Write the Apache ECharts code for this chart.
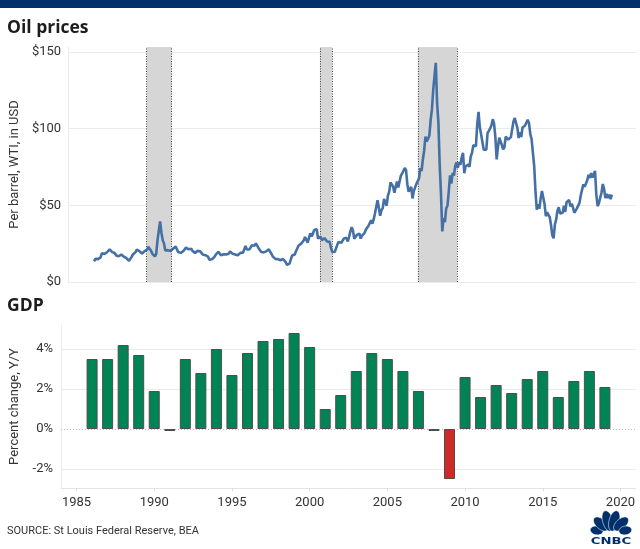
<!DOCTYPE html>
<html><head><meta charset="utf-8">
<script src="https://cdn.jsdelivr.net/npm/echarts@6/dist/echarts.min.js"></script>
<style>html,body{margin:0;padding:0;background:#fff}#c{width:640px;height:549px}</style>
</head><body><div id="c"></div>
<script>
// ---- GDP (annual real GDP growth, % Y/Y) ----
const gdpYears = [1986,1987,1988,1989,1990,1991,1992,1993,1994,1995,1996,1997,1998,1999,2000,2001,2002,2003,2004,2005,2006,2007,2008,2009,2010,2011,2012,2013,2014,2015,2016,2017,2018,2019];
const gdpValues = [3.5,3.5,4.2,3.7,1.9,-0.1,3.5,2.8,4.0,2.7,3.8,4.4,4.5,4.8,4.1,1.0,1.7,2.9,3.8,3.5,2.9,1.9,-0.1,-2.5,2.6,1.6,2.2,1.8,2.5,2.9,1.6,2.4,2.9,2.1];

// ---- WTI oil price, monthly (1986 starts in July) ----
const oilStartYear = 1986;
const oilFirstMonth = 6;
const wti1986 = [13.5,15.1,14.9,14.9,15.2,16.1];
const wti1987 = [18.7,17.8,18.3,18.7,19.4,20.1,21.3,20.3,19.5,19.9,18.9,17.3];
const wti1988 = [17.1,16.8,16.2,17.9,17.4,16.5,15.5,15.5,14.5,13.8,14.1,16.4];
const wti1989 = [18.0,17.9,19.5,21.1,20.1,20.1,19.8,18.6,19.6,20.1,19.9,21.1];
const wti1990 = [22.9,22.1,20.4,18.4,18.2,16.7,18.5,27.3,33.5,39.5,32.3,27.3];
const wti1991 = [25.2,20.5,19.9,20.8,21.2,20.2,21.4,21.7,21.9,23.2,22.5,19.5];
const wti1992 = [18.8,19.0,18.9,20.2,21.0,22.4,21.8,21.3,21.9,21.7,20.3,19.4];
const wti1993 = [19.0,20.1,20.3,20.3,20.0,19.1,17.9,18.0,17.5,18.2,16.6,14.5];
const wti1994 = [15.0,14.8,14.7,16.4,17.9,19.1,19.7,18.4,17.5,17.7,18.1,17.2];
const wti1995 = [18.0,18.6,18.5,19.9,19.7,18.5,17.3,18.0,18.2,17.4,18.0,19.0];
const wti1996 = [18.9,19.1,21.3,23.5,21.2,20.4,21.3,21.9,24.0,24.9,23.7,25.2];
const wti1997 = [25.1,22.2,21.0,19.7,20.8,19.3,19.7,20.0,19.8,21.3,20.2,18.3];
const wti1998 = [16.7,16.1,15.1,15.4,14.9,13.7,14.2,13.5,15.0,14.5,13.0,11.2];
const wti1999 = [12.5,12.0,14.7,17.3,17.7,17.9,20.1,21.3,23.8,22.7,25.0,26.1];
const wti2000 = [27.3,29.4,29.8,25.7,28.8,31.8,29.7,31.3,33.9,33.1,34.4,28.4];
const wti2001 = [29.6,29.6,27.3,27.5,28.6,27.6,26.4,27.4,26.2,22.2,19.6,19.4];
const wti2002 = [19.7,20.7,24.5,26.2,27.0,25.5,27.0,28.4,29.7,28.8,26.4,29.5];
const wti2003 = [33.0,35.8,33.5,28.2,28.1,30.7,30.8,31.6,28.3,30.3,31.1,32.1];
const wti2004 = [34.3,34.7,36.7,36.8,40.3,38.0,40.8,44.9,45.9,53.3,48.5,43.2];
const wti2005 = [46.8,48.2,54.2,53.0,49.8,56.4,59.0,65.0,65.6,62.3,58.3,59.4];
const wti2006 = [65.5,61.6,62.7,69.4,70.8,71.0,74.4,73.0,63.8,58.9,59.1,62.0];
const wti2007 = [54.5,59.3,60.4,64.0,63.5,67.5,74.1,72.4,79.9,85.8,94.8,91.7];
const wti2008 = [93.0,95.4,105.5,112.6,125.4,134.5,143.0,116.7,104.1,76.6,57.3,33.0];
const wti2009 = [41.7,39.1,47.9,49.7,59.0,69.6,64.2,71.1,69.4,75.7,78.0,74.5];
const wti2010 = [78.3,76.4,81.2,84.3,71.0,75.3,76.3,76.6,75.2,81.9,84.3,89.2];
const wti2011 = [89.2,88.6,102.9,111.0,100.9,96.3,97.3,86.3,85.5,86.3,97.2,98.6];
const wti2012 = [100.3,102.2,106.2,103.3,94.7,80.0,87.9,94.1,94.5,89.5,86.5,87.9];
const wti2013 = [94.8,95.3,92.9,92.0,94.5,95.8,104.7,107.0,106.3,100.5,93.9,97.6];
const wti2014 = [94.6,100.8,100.8,102.1,102.2,105.8,103.6,96.5,93.2,84.4,75.8,59.3];
const wti2015 = [47.2,50.6,47.8,54.5,59.3,59.8,50.9,42.9,45.5,46.2,42.4,37.2];
const wti2016 = [30.5,28.5,37.6,40.8,46.7,48.8,44.7,44.7,45.2,49.8,45.7,52.0];
const wti2017 = [52.5,53.5,49.3,51.1,48.5,45.2,46.6,48.0,49.8,51.6,56.6,57.9];
const wti2018 = [63.7,62.2,62.7,66.3,70.0,67.9,71.0,68.1,70.2,72.5,57.0,49.5];
const wti2019 = [51.4,55.0,58.2,63.9,60.8,54.7,57.4,54.8,57.0,54.0,57.0];
const wtiByYear = [wti1986,wti1987,wti1988,wti1989,wti1990,wti1991,wti1992,wti1993,wti1994,wti1995,wti1996,wti1997,wti1998,wti1999,wti2000,wti2001,wti2002,wti2003,wti2004,wti2005,wti2006,wti2007,wti2008,wti2009,wti2010,wti2011,wti2012,wti2013,wti2014,wti2015,wti2016,wti2017,wti2018,wti2019];

// ---- recession shading (as drawn) ----
const recessionStart = [1989.92, 2001.08, 2007.38];
const recessionEnd   = [1991.54, 2001.86, 2009.91];

// ---- tick labels ----
const oilTicks = [0, 50, 100, 150];
const gdpTicks = [-2, 0, 2, 4];
const yearTicks = [1985, 1990, 1995, 2000, 2005, 2010, 2015, 2020];

const NAVY = '#00306b';
const GREEN = '#008456';
const RED = '#cf2a2a';
const GRID = '#ebebeb';
const TXT = '#333';
const FONT = 'Roboto';

const oilPoints = [];
wtiByYear.forEach((arr, k) => {
  const yr = oilStartYear + k;
  const m0 = k === 0 ? oilFirstMonth : 0;
  arr.forEach((v, j) => oilPoints.push([yr + (m0 + j + 0.5) / 12, v]));
});

const gdpData = gdpYears.map((y, i) => ({
  value: [y, gdpValues[i]],
  itemStyle: { color: gdpValues[i] < 0 ? RED : GREEN }
}));

// CNBC logo (decorative)
const lx = 611, ly = 533;
const feathers = [[-80,14.5,6.5,4.4],[-48,13.5,9,5.0],[-15,12.5,10.5,5.2],[15,12.5,10.5,5.2],[48,13.5,9,5.0],[80,14.5,6.5,4.4]];
const logoChildren = feathers.map(([a, d, ry, rx]) => {
  const r = a * Math.PI / 180;
  return { type: 'ellipse', x: lx + d * Math.sin(r), y: ly - d * Math.cos(r), rotation: -r,
    shape: { cx: 0, cy: 0, rx, ry }, style: { fill: NAVY, stroke: '#fff', lineWidth: 0.5 } };
});
logoChildren.push({ type: 'group', x: 611, y: 541.5, scaleX: 1.65, children: [
  { type: 'text', x: 0, y: 0, style: { text: 'CNBC', font: '900 8px "DejaVu Sans"', fill: NAVY, align: 'center', verticalAlign: 'middle' } }
] });

const chart = echarts.init(document.getElementById('c'), null, { renderer: 'canvas' });
chart.setOption({
  animation: false,
  backgroundColor: '#fff',
  textStyle: { fontFamily: FONT },
  graphic: [
    { type: 'rect', shape: { x: 0, y: 0, width: 640, height: 8 }, style: { fill: NAVY } },
    { type: 'text', x: 7, y: 28, style: { text: 'Oil prices', font: 'bold 17.5px "Open Sans"', fill: '#1c1c1c', verticalAlign: 'middle' } },
    { type: 'text', x: 7, y: 306, style: { text: 'GDP', font: 'bold 17.5px "Open Sans"', fill: '#1c1c1c', verticalAlign: 'middle' } },
    { type: 'text', x: 7, y: 531, style: { text: 'SOURCE: St Louis Federal Reserve, BEA', font: '11px ' + FONT, fill: TXT, verticalAlign: 'middle' } },
    { type: 'group', children: logoChildren }
  ],
  grid: [
    { left: 68, right: 4, top: 47, height: 235 },
    { left: 61, right: 4, top: 325, height: 163 }
  ],
  xAxis: [
    { gridIndex: 0, type: 'value', min: 1984.87, max: 2021.43, show: false },
    { gridIndex: 1, type: 'value', min: 1984, max: 2021,
      axisLine: { show: true, onZero: false, lineStyle: { color: '#e4e4e4' } },
      axisTick: { show: true, customValues: yearTicks, length: 3, lineStyle: { color: '#dcdcdc' } },
      axisLabel: { customValues: yearTicks, formatter: v => String(v), color: TXT, fontSize: 13, margin: 8, fontFamily: FONT },
      splitLine: { show: false } }
  ],
  yAxis: [
    { gridIndex: 0, type: 'value', min: 0, max: 153.3,
      name: 'Per barrel, WTI, in USD', nameLocation: 'middle', nameGap: 43,
      nameTextStyle: { color: TXT, fontSize: 13, fontFamily: FONT },
      axisLine: { show: true, lineStyle: { color: GRID } },
      axisTick: { show: false, customValues: oilTicks },
      axisLabel: { customValues: oilTicks, formatter: v => '$' + v, color: TXT, fontSize: 13, margin: 7, fontFamily: FONT },
      splitLine: { show: true, lineStyle: { color: GRID } } },
    { gridIndex: 1, type: 'value', min: -2.95, max: 5.2,
      name: 'Percent change, Y/Y', nameLocation: 'middle', nameGap: 37,
      nameTextStyle: { color: TXT, fontSize: 13, fontFamily: FONT },
      axisLine: { show: true, lineStyle: { color: GRID } },
      axisTick: { show: false, customValues: gdpTicks },
      axisLabel: { customValues: gdpTicks, formatter: v => v + '%', color: TXT, fontSize: 13, margin: 8, fontFamily: FONT },
      splitLine: { show: true, lineStyle: { color: [GRID, 'rgba(0,0,0,0)', GRID, GRID] } } }
  ],
  series: [
    { type: 'line', xAxisIndex: 0, yAxisIndex: 0, data: oilPoints, showSymbol: false, silent: true,
      lineStyle: { color: '#4570a5', width: 2.6 },
      markArea: { silent: true, z: 1, itemStyle: { color: '#d6d6d6' },
        data: recessionStart.map((s, i) => [{ xAxis: s }, { xAxis: recessionEnd[i] }]) },
      markLine: { silent: true, symbol: 'none', z: 1, label: { show: false },
        lineStyle: { color: '#444', type: [1, 1.5], width: 1 },
        data: recessionStart.concat(recessionEnd).map(v => ({ xAxis: v })) } },
    { type: 'bar', xAxisIndex: 1, yAxisIndex: 1, data: gdpData, barWidth: 11, silent: true,
      itemStyle: { borderColor: '#4d4d4d', borderWidth: 1 },
      markLine: { silent: true, symbol: 'none', z: 1, label: { show: false },
        lineStyle: { color: '#bdbdbd', type: [1, 2], width: 1 },
        data: [{ yAxis: 0 }] } }
  ]
});
</script></body></html>
